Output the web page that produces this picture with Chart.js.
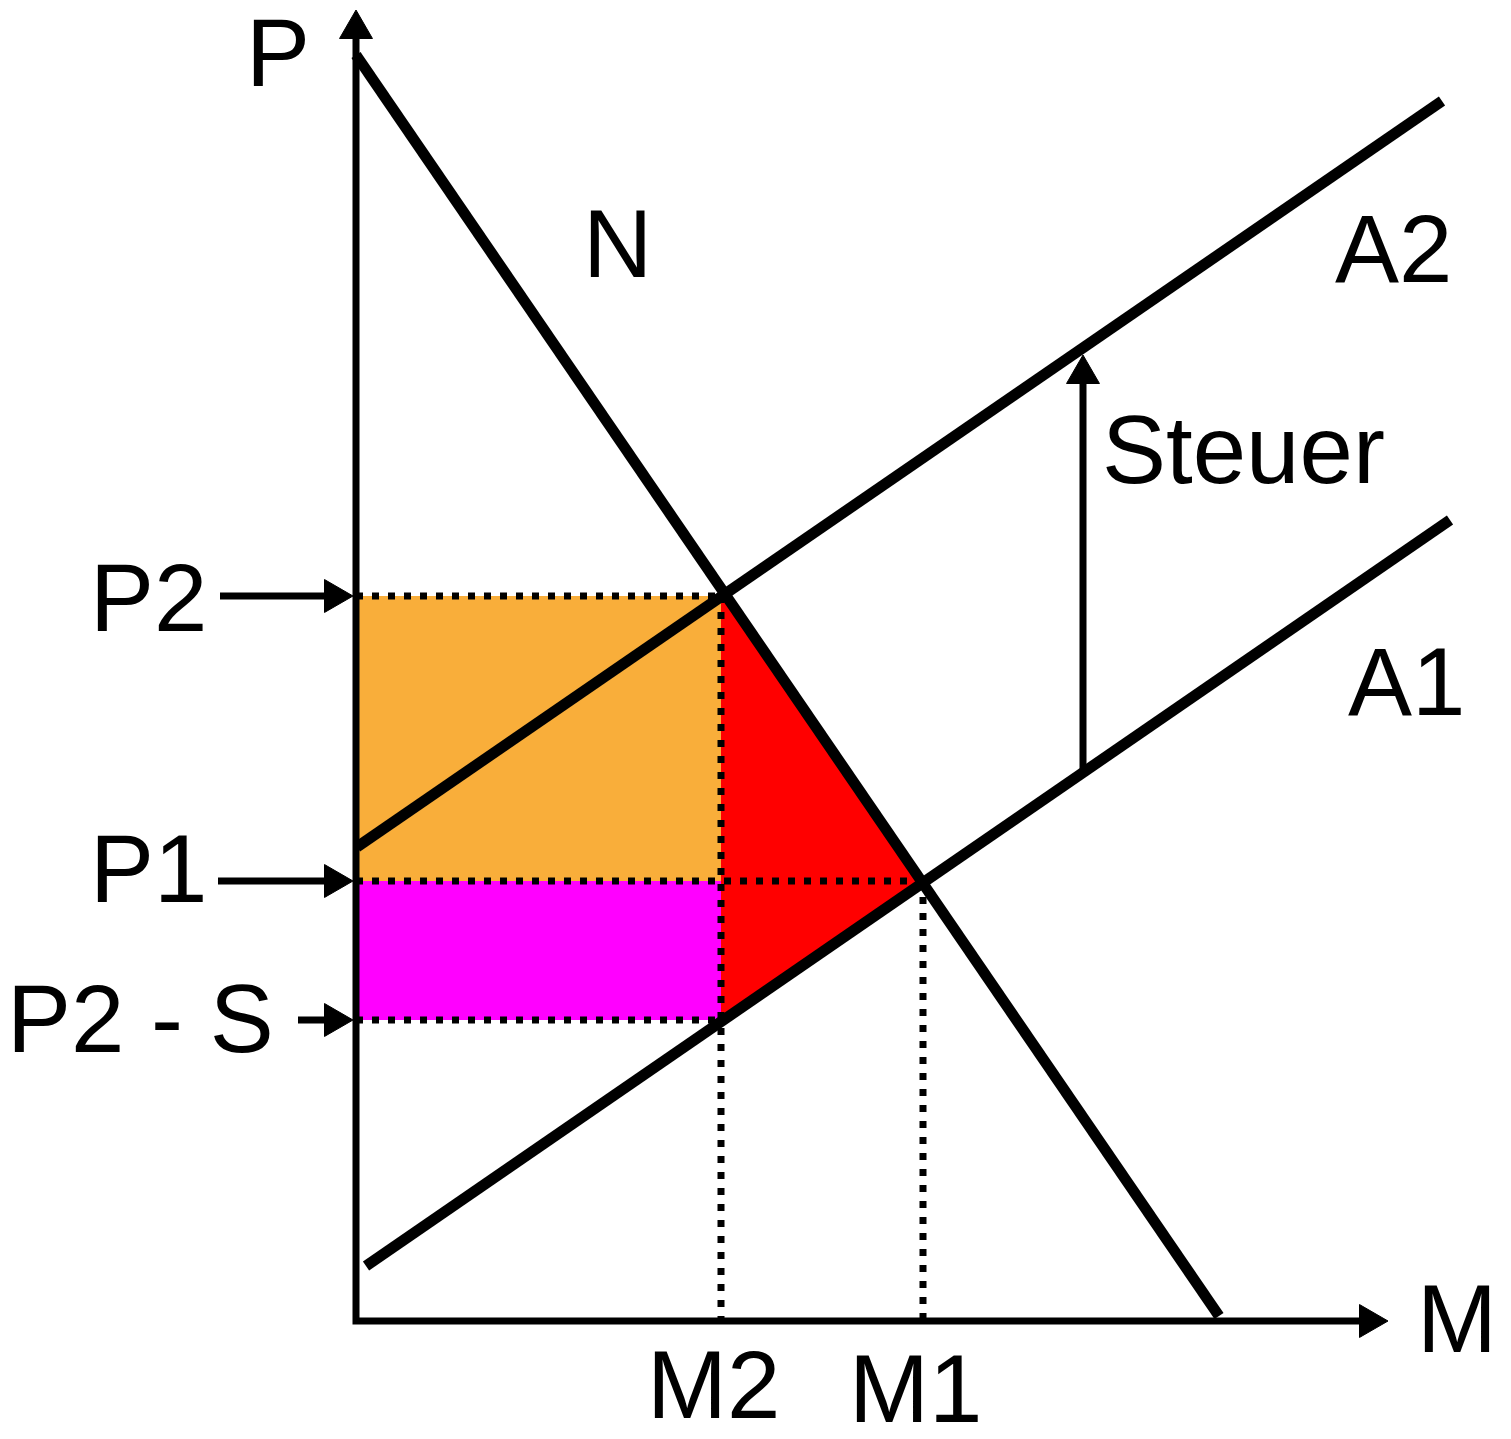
<!DOCTYPE html>
<html>
<head>
<meta charset="utf-8">
<title>Steuer</title>
<script src="https://cdn.jsdelivr.net/npm/chart.js@4/dist/chart.umd.min.js"></script>
<style>
  body { margin: 0; background: #fff; }
  canvas { display: block; }
</style>
</head>
<body>
<canvas id="chart" width="1511" height="1439"></canvas>
<script>
// quantities (M) and prices (P), in plot units
const quantityLabels = ['M2', 'M1'];
const quantityValues = [36.5, 56.7];
const priceLabels = ['P2', 'P1', 'P2 - S'];
const priceValues = [72.5, 44.0, 30.1];

// demand N and supply before / after tax
const demandX = [0, 86.3];
const demandY = [126.6, 0.5];
const supply1X = [1.0, 109.4];
const supply1Y = [5.5, 80.1];
const supply2X = [0.1, 108.6];
const supply2Y = [47.4, 122.0];

// tax arrow between A1 and A2
const taxX = [72.7, 72.7];
const taxY = [54.8, 94.7];

// axis ends (arrow heads)
const axisTopY = 129.2;
const axisRightX = 101.3;

const [M2, M1] = quantityValues;
const [P2, P1, P2S] = priceValues;

function pts(xs, ys){
  return xs.map((x, i) => ({x: x, y: ys[i]}));
}

// text placement (left edge / baseline)
const textSpots = [
  {text: 'P', x: -11.0, y: 123.5},
  {text: 'N', x: 22.7, y: 104.4},
  {text: 'A2', x: 97.9, y: 103.9},
  {text: 'A1', x: 99.2, y: 60.6},
  {text: 'Steuer', x: 74.6, y: 83.8},
  {text: priceLabels[0], x: -26.6, y: 69.0},
  {text: priceLabels[1], x: -26.6, y: 41.9},
  {text: priceLabels[2], x: -34.9, y: 26.9},
  {text: quantityLabels[0], x: 29.1, y: -9.7},
  {text: quantityLabels[1], x: 49.3, y: -10.1},
  {text: 'M', x: 106.1, y: -3.1}
];

const textPlugin = {
  id: 'textSpots',
  afterDatasetsDraw(chart){
    const ctx = chart.ctx;
    const xs = chart.scales.x, ys = chart.scales.y;
    ctx.save();
    ctx.font = '96px "Liberation Sans", Arial, sans-serif';
    ctx.fillStyle = '#000';
    ctx.textAlign = 'left';
    ctx.textBaseline = 'alphabetic';
    for (const t of textSpots) {
      ctx.fillText(t.text, xs.getPixelForValue(t.x), ys.getPixelForValue(t.y));
    }
    ctx.restore();
  }
};

function area(data, color){
  return {data: data, fill: 'shape', backgroundColor: color, borderWidth: 0, pointRadius: 0, order: 6};
}
function dotted(data){
  return {data: data, borderColor: '#000', borderWidth: 7, borderDash: [7, 9], pointRadius: 0, fill: false, order: 5};
}
function thick(data){
  return {data: data, borderColor: '#000', borderWidth: 11, pointRadius: 0, fill: false, order: 4};
}
function arrow(data, rot){
  return {
    data: data, borderColor: '#000', borderWidth: 7, fill: false, order: 2,
    pointStyle: 'triangle', pointRadius: [0, 19], pointRotation: [0, rot],
    pointBackgroundColor: '#000', pointBorderColor: '#000', pointBorderWidth: 1
  };
}

const datasets = [
  // areas
  area([{x:0,y:P2},{x:M2,y:P2},{x:M2,y:P1},{x:0,y:P1}], '#F9AE3A'),
  area([{x:0,y:P1},{x:M2,y:P1},{x:M2,y:P2S},{x:0,y:P2S}], '#FF00FF'),
  area([{x:M2,y:P2},{x:M1,y:P1},{x:M2,y:P2S}], '#FF0000'),
  // guide lines
  dotted([{x:0,y:P2},{x:M2,y:P2}]),
  dotted([{x:0,y:P1},{x:M1,y:P1}]),
  dotted([{x:0,y:P2S},{x:M2,y:P2S}]),
  dotted([{x:M2,y:P2},{x:M2,y:0}]),
  dotted([{x:M1,y:P1},{x:M1,y:0}]),
  // curves
  thick(pts(demandX, demandY)),
  thick(pts(supply1X, supply1Y)),
  thick(pts(supply2X, supply2Y)),
  // axes
  {
    data: [{x:0,y:axisTopY},{x:0,y:0},{x:axisRightX,y:0}],
    borderColor: '#000', borderWidth: 7, fill: false, order: 1,
    borderJoinStyle: 'miter',
    pointStyle: 'triangle', pointRadius: [19, 0, 19], pointRotation: [0, 0, 90],
    pointBackgroundColor: '#000', pointBorderColor: '#000', pointBorderWidth: 1
  },
  // price arrows
  arrow([{x:-13.6,y:P2},{x:-2.2,y:P2}], 90),
  arrow([{x:-13.8,y:P1},{x:-2.2,y:P1}], 90),
  arrow([{x:-5.8,y:P2S},{x:-2.2,y:P2S}], 90),
  // tax arrow
  arrow(pts(taxX, taxY), 0)
];

new Chart(document.getElementById('chart'), {
  type: 'line',
  data: {datasets: datasets},
  options: {
    responsive: false,
    devicePixelRatio: 1,
    animation: false,
    events: [],
    layout: {padding: 0, autoPadding: false},
    plugins: {legend: {display: false}, tooltip: {enabled: false}},
    elements: {line: {tension: 0, borderCapStyle: 'butt'}},
    scales: {
      x: {type: 'linear', min: -35.6, max: 115.5, display: false},
      y: {type: 'linear', min: -11.8, max: 132.1, display: false}
    }
  },
  plugins: [textPlugin]
});
</script>
</body>
</html>
